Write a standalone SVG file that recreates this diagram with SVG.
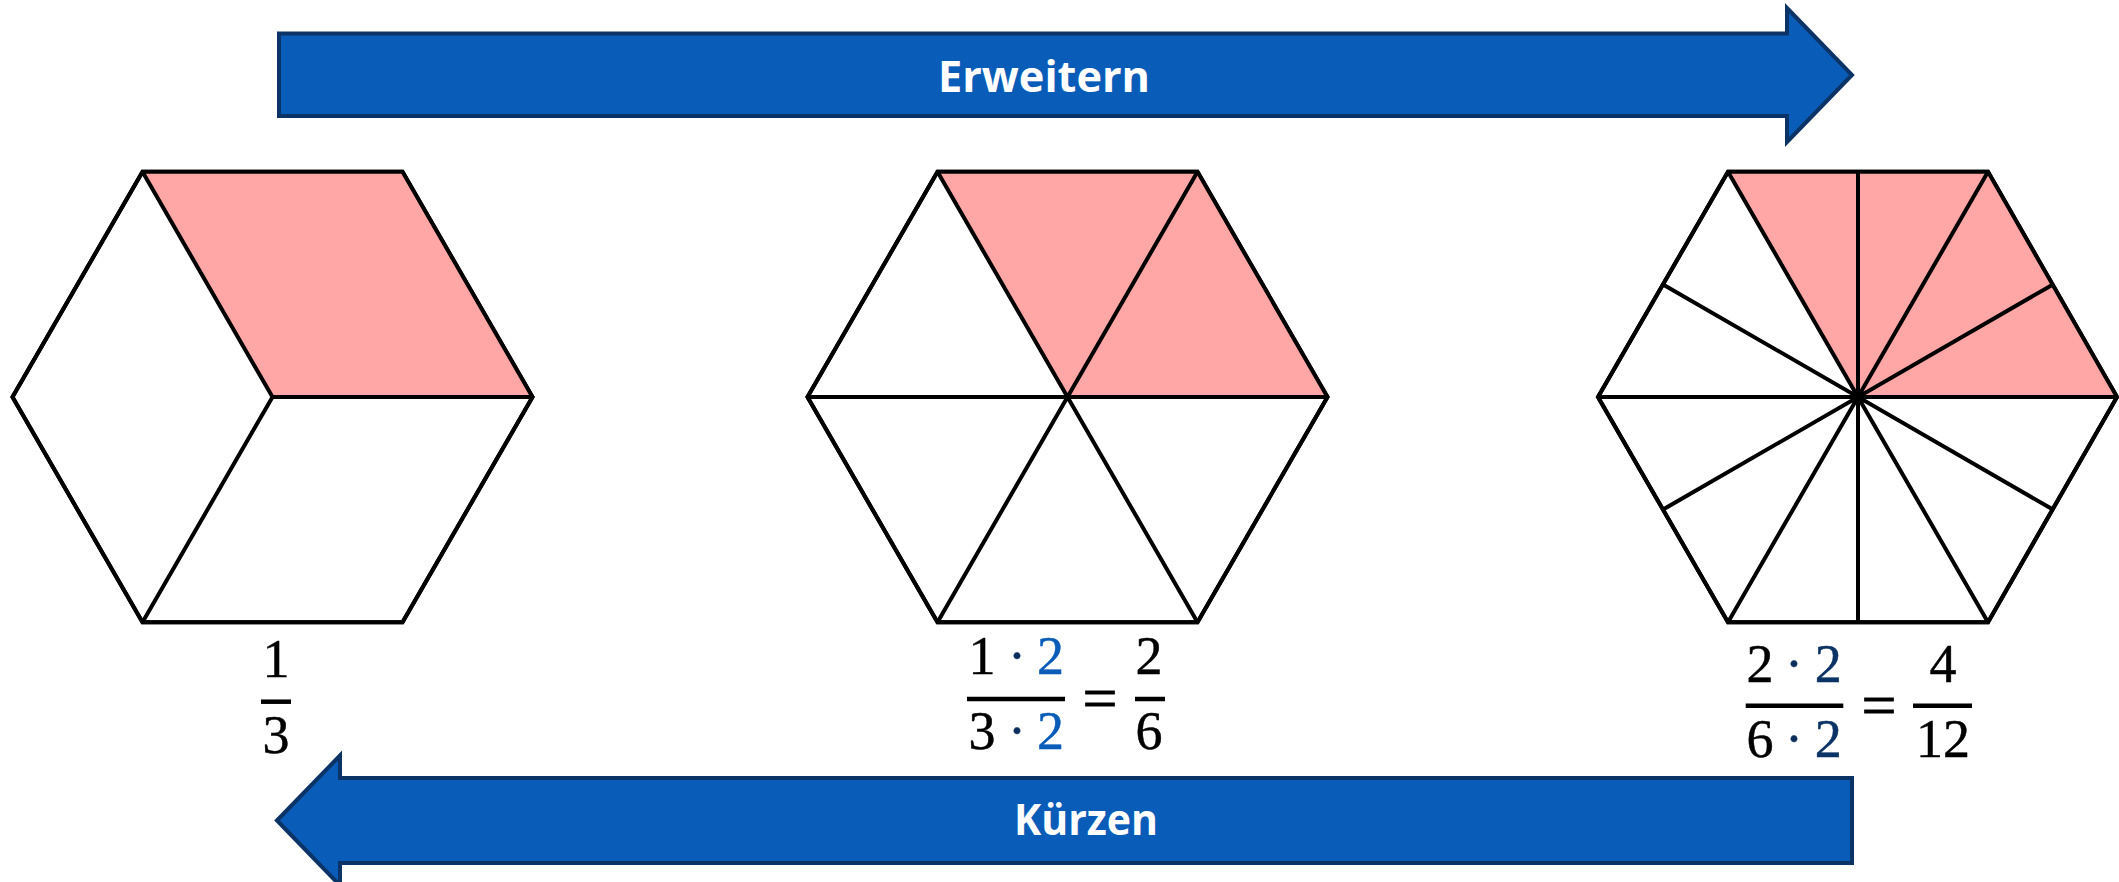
<svg xmlns="http://www.w3.org/2000/svg" width="2119" height="882" viewBox="0 0 2119 882">
<style>
.arrow{fill:#0A5CB9;stroke:#0C3366;stroke-width:4;stroke-linejoin:miter}
.lbl{font-family:"Open Sans","Liberation Sans",sans-serif;font-weight:700;font-size:43px;fill:#ffffff;text-anchor:middle}
.hex{fill:#ffffff;stroke:#000000;stroke-width:4;stroke-linejoin:miter}
.shade{fill:#FFA7A7;stroke:none}
.ln{stroke:#000000;stroke-width:4;stroke-linecap:butt;fill:none}
.num{font-family:"Liberation Serif","Times New Roman",serif;font-size:54px;fill:#000000;text-anchor:middle;stroke:currentColor;stroke-width:0.5}
.eq{font-family:"Liberation Serif","Times New Roman",serif;font-size:62px;fill:#000000;stroke:#000000;stroke-width:0.8;text-anchor:middle}
.dot{fill:#0C2E5C;color:#0C2E5C}
.b1{fill:#0A5CB9;color:#0A5CB9}
.b2{fill:#0C3366;color:#0C3366}
.bar{stroke:#000000;stroke-width:4.5}
</style>
<g id="arrow-erweitern">
<polygon class="arrow" points="279,33.5 1787,33.5 1787,8 1852,75 1787,142 1787,116 279,116"/>
<text class="lbl" x="1044" y="92" textLength="212" lengthAdjust="spacingAndGlyphs">Erweitern</text>
</g>
<g id="arrow-kuerzen">
<polygon class="arrow" points="277,820.5 340,755.5 340,778 1852,778 1852,863 340,863 340,885.5"/>
<text class="lbl" x="1086" y="835" textLength="144" lengthAdjust="spacingAndGlyphs">Kürzen</text>
</g>
<g id="hex1">
<polygon class="hex" points="532.5,397 402.5,171.8 142.5,171.8 12.5,397 142.5,622.2 402.5,622.2"/>
<polygon class="shade" points="272.5,397 142.5,171.8 402.5,171.8 532.5,397"/>
<polygon class="hex" style="fill:none" points="532.5,397 402.5,171.8 142.5,171.8 12.5,397 142.5,622.2 402.5,622.2"/>
<path class="ln" d="M272.5,397 L142.5,171.8 M272.5,397 L532.5,397 M272.5,397 L142.5,622.2"/>
</g>
<g id="hex2">
<polygon class="hex" points="1327.5,397 1197.5,171.8 937.5,171.8 807.5,397 937.5,622.2 1197.5,622.2"/>
<polygon class="shade" points="1067.5,397 937.5,171.8 1197.5,171.8 1327.5,397"/>
<polygon class="hex" style="fill:none" points="1327.5,397 1197.5,171.8 937.5,171.8 807.5,397 937.5,622.2 1197.5,622.2"/>
<path class="ln" d="M807.5,397 L1327.5,397 M937.5,171.8 L1197.5,622.2 M1197.5,171.8 L937.5,622.2"/>
</g>
<g id="hex3">
<polygon class="hex" points="2117,397 1988,171.8 1728,171.8 1598,397 1728,622.2 1988,622.2"/>
<polygon class="shade" points="1858,397 1728,171.8 1988,171.8 2117,397"/>
<polygon class="hex" style="fill:none" points="2117,397 1988,171.8 1728,171.8 1598,397 1728,622.2 1988,622.2"/>
<path class="ln" d="M1598,397 L2117,397 M1728,171.8 L1988,622.2 M1988,171.8 L1728,622.2 M1858,171.8 L1858,622.2 M1663,284.4 L2053,509.6 M2053,284.4 L1663,509.6"/>
</g>
<g id="frac1">
<text class="num" x="276" y="677">1</text>
<line class="bar" x1="261" y1="701.7" x2="291" y2="701.7"/>
<text class="num" x="276" y="752.5">3</text>
</g>
<g id="frac2">
<text class="num" x="982" y="674">1</text>
<text class="num dot" x="1017" y="674">·</text>
<text class="num b1" x="1050.5" y="674">2</text>
<line class="bar" x1="967" y1="699" x2="1065" y2="699"/>
<text class="num" x="982" y="749">3</text>
<text class="num dot" x="1017" y="749">·</text>
<text class="num b1" x="1050.5" y="749">2</text>
<text class="eq" x="1100" y="719">=</text>
<text class="num" x="1149" y="674">2</text>
<line class="bar" x1="1135" y1="699" x2="1165" y2="699"/>
<text class="num" x="1149" y="749">6</text>
</g>
<g id="frac3">
<text class="num" x="1760" y="681.7">2</text>
<text class="num dot" x="1794" y="681.7">·</text>
<text class="num b2" x="1828.3" y="681.7">2</text>
<line class="bar" x1="1745.7" y1="705.7" x2="1843.3" y2="705.7"/>
<text class="num" x="1760" y="756.7">6</text>
<text class="num dot" x="1794" y="756.7">·</text>
<text class="num b2" x="1828.3" y="756.7">2</text>
<text class="eq" x="1879" y="725.5">=</text>
<text class="num" x="1943" y="681.7">4</text>
<line class="bar" x1="1913" y1="705.7" x2="1972" y2="705.7"/>
<text class="num" x="1943" y="756.7">12</text>
</g>
</svg>
